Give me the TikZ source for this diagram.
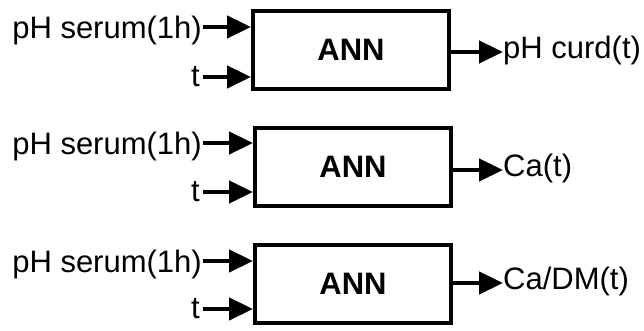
\documentclass[tikz,border=0pt]{standalone}
\usepackage{fontspec}
\setmainfont{Liberation Sans}
\usetikzlibrary{arrows.meta}
\begin{document}
\begin{tikzpicture}[x=1pt,y=1pt,
  annbox/.style={draw=black,line width=4pt,minimum width=196pt,minimum height=78pt,inner sep=0pt,font=\fontsize{31}{36}\selectfont\bfseries},
  lbl/.style={inner sep=0pt,font=\fontsize{31}{36}\selectfont},
  conn/.style={line width=4.5pt,-{Triangle[length=24pt,width=22pt]}}]
\useasboundingbox (0,0) rectangle (644,331);
% row 1
\node[annbox] (b1) at (351,281) {ANN};
\node[lbl,anchor=base east] (i1a) at (202,292) {pH serum(1h)};
\node[lbl,anchor=base east] (i1b) at (200,244) {t};
\node[lbl,anchor=base west] (o1) at (503,272) {pH curd(t)};
\coordinate (s1a) at (203,304);
\coordinate (s1b) at (203,254);
\draw[conn] (s1a) -- (s1a -| b1.west);
\draw[conn] (s1b) -- (s1b -| b1.west);
\coordinate (e1) at (b1.east |- 0,279);
\draw[conn] (e1) -- (o1.base west |- e1);
% row 2
\node[annbox] (b2) at (353,164) {ANN};
\node[lbl,anchor=base east] (i2a) at (202,176) {pH serum(1h)};
\node[lbl,anchor=base east] (i2b) at (200,129) {t};
\node[lbl,anchor=base west] (o2) at (503,154) {Ca(t)};
\coordinate (s2a) at (203,188);
\coordinate (s2b) at (203,139);
\draw[conn] (s2a) -- (s2a -| b2.west);
\draw[conn] (s2b) -- (s2b -| b2.west);
\coordinate (e2) at (b2.east |- 0,161);
\draw[conn] (e2) -- (o2.base west |- e2);
% row 3
\node[annbox] (b3) at (353,47) {ANN};
\node[lbl,anchor=base east] (i3a) at (202,58) {pH serum(1h)};
\node[lbl,anchor=base east] (i3b) at (200,12) {t};
\node[lbl,anchor=base west] (o3) at (503,41) {Ca/DM(t)};
\coordinate (s3a) at (203,70);
\coordinate (s3b) at (203,22);
\draw[conn] (s3a) -- (s3a -| b3.west);
\draw[conn] (s3b) -- (s3b -| b3.west);
\coordinate (e3) at (b3.east |- 0,48);
\draw[conn] (e3) -- (o3.base west |- e3);
\end{tikzpicture}
\end{document}
